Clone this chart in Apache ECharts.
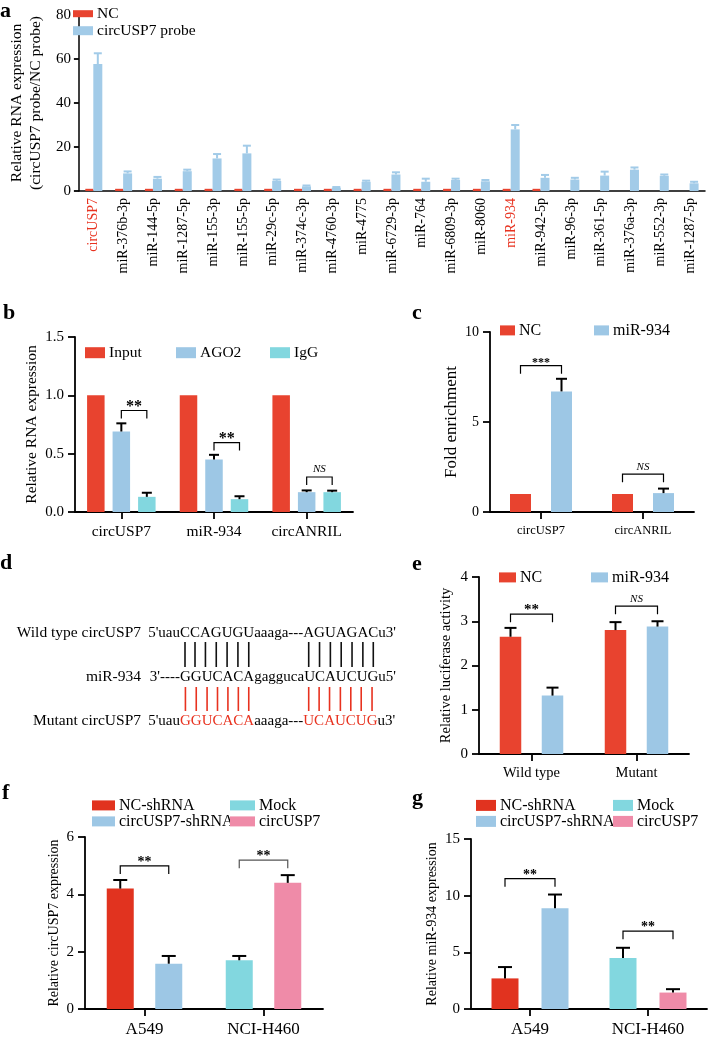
<!DOCTYPE html>
<html><head><meta charset="utf-8">
<script src="https://cdn.jsdelivr.net/npm/echarts@6/dist/echarts.min.js"></script>
<style>html,body{margin:0;padding:0;background:#fff}#c{width:712px;height:1038px}</style>
</head><body><div id="c"></div>
<script>
// ---------------- DATA ----------------
const aCategories = ['circUSP7','miR-376b-3p','miR-144-5p','miR-1287-5p','miR-155-3p','miR-155-5p','miR-29c-5p','miR-374c-3p','miR-4760-3p','miR-4775','miR-6729-3p','miR-764','miR-6809-3p','miR-8060','miR-934','miR-942-5p','miR-96-3p','miR-361-5p','miR-376a-3p','miR-552-3p','miR-1287-5p'];
const aHighlight = ['circUSP7','miR-934'];
const aNC = [1,1,1,1,1,1,1,1,1,1,1,1,1,1,1,1,'-','-','-','-','-'];
const aProbe = [57.7,8.0,5.6,9.0,14.8,17.1,4.6,2.1,1.5,4.2,7.5,4.2,5.0,4.4,28.0,6.0,5.2,7.0,9.7,6.9,3.5];
const aProbeErr = [4.9,0.9,0.8,0.7,2.0,3.5,0.6,0.4,0.3,0.5,1.0,1.4,0.6,0.6,2.0,1.3,0.8,1.8,1.0,0.6,0.7];
const aTicks = [0,20,40,60,80];

const bCategories = ['circUSP7','miR-934','circANRIL'];
const bInput = [1,1,1];
const bAGO2 = [0.69,0.45,0.17];
const bAGO2Err = [0.07,0.04,0.015];
const bIgG = [0.13,0.11,0.17];
const bIgGErr = [0.035,0.025,0.013];
const bSig = [{cat:0,y:0.87,text:'**'},{cat:1,y:0.595,text:'**'},{cat:2,y:0.30,text:'NS'}];

const cCategories = ['circUSP7','circANRIL'];
const cNC = [1,1];
const cMiR = [6.7,1.05];
const cMiRErr = [0.7,0.25];
const cSig = [{cat:0,y:8.13,text:'***'},{cat:1,y:2.1,text:'NS'}];

const eCategories = ['Wild type','Mutant'];
const eNC = [2.65,2.8];
const eNCErr = [0.2,0.18];
const eMiR = [1.32,2.88];
const eMiRErr = [0.18,0.12];
const eSig = [{cat:0,y:3.16,text:'**'},{cat:1,y:3.34,text:'NS'}];

const fgCategories = ['A549','NCI-H460'];
const fNCsh = [4.2,'-'];      const fNCshErr = [0.3,null];
const fCircSh = [1.58,'-'];   const fCircShErr = [0.27,null];
const fMock = ['-',1.7];      const fMockErr = [null,0.15];
const fCirc = ['-',4.4];      const fCircErr = [null,0.27];
const fSig = [{cat:0,y:4.99,text:'**'},{cat:1,y:5.19,text:'**',color:'#555'}];

const gNCsh = [2.7,'-'];      const gNCshErr = [1.0,null];
const gCircSh = [8.9,'-'];    const gCircShErr = [1.2,null];
const gMock = ['-',4.5];      const gMockErr = [null,0.9];
const gCirc = ['-',1.45];     const gCircErr = [null,0.3];
const gSig = [{cat:0,y:11.5,text:'**'},{cat:1,y:6.87,text:'**'}];

const dTop = ["5'uau","CCAGUGU","aaaga---","AGUAGAC","u3'"];
const dMir = ["3'----","GGUCACA","gagguca","UCAUCUG","u5'"];
const dMut = ["5'uau","GGUCACA","aaaga---","UCAUCUG","u3'"];
const dLabels = ['Wild type circUSP7','miR-934','Mutant circUSP7'];

// ---------------- STYLE ----------------
const SERIF = '"Liberation Serif", "Times New Roman", serif';
const RED = '#E8432F', RED2 = '#E1331F', BLUE = '#9DC7E5', CYAN = '#82D7DF', PINK = '#EF8BA8';

function offsets(widths, gap){
  const total = widths.reduce((s,w)=>s+w,0) + gap*(widths.length-1);
  let o = -total/2;
  return widths.map(w=>{ const c=o+w/2; o+=w+gap; return c; });
}
function grid(left, top, width, height){ return {left, top, width, height, containLabel:false}; }
function xCat(gi, data, fs, extra){
  return Object.assign({
    type:'category', gridIndex:gi, data,
    axisLine:{lineStyle:{color:'#000', width:1.8}},
    axisTick:{show:true, alignWithLabel:true, length:7, lineStyle:{color:'#000', width:1.8}},
    axisLabel:{color:'#000', fontSize:fs, fontFamily:SERIF, margin:12},
    splitLine:{show:false}
  }, extra||{});
}
function yVal(gi, min, max, interval, fs, name, nameGap, nameSize, fmt){
  return {
    type:'value', gridIndex:gi, min, max, interval,
    axisLine:{show:true, lineStyle:{color:'#000', width:1.8}},
    axisTick:{show:true, length:7, lineStyle:{color:'#000', width:1.8}},
    axisLabel:{color:'#000', fontSize:fs, fontFamily:SERIF, margin:11, formatter:fmt},
    splitLine:{show:false},
    name, nameLocation:'middle', nameGap, nameRotate:90,
    nameTextStyle:{color:'#000', fontSize:nameSize, fontFamily:SERIF, lineHeight:nameSize+3}
  };
}
function bar(name, gi, data, color, width, gap, stack){
  return {type:'bar', name, xAxisIndex:gi, yAxisIndex:gi, data, barWidth:width,
    barGap:(gap/width*100)+'%', stack, itemStyle:{color}, silent:true, z:2};
}
function errSeries(gi, means, errs, off, color, cap, lw){
  const data = [];
  means.forEach((m,i)=>{ if(m!=='-' && errs[i]!=null) data.push([i, m, errs[i]]); });
  return {type:'custom', xAxisIndex:gi, yAxisIndex:gi, data, silent:true, z:3,
    renderItem(params, api){
      const top = api.coord([api.value(0), api.value(1)+api.value(2)]);
      const base = api.coord([api.value(0), api.value(1)]);
      const x = top[0]+off;
      return {type:'group', children:[
        {type:'line', shape:{x1:x,y1:base[1],x2:x,y2:top[1]}, style:{stroke:color,lineWidth:lw}},
        {type:'line', shape:{x1:x-cap/2,y1:top[1],x2:x+cap/2,y2:top[1]}, style:{stroke:color,lineWidth:lw}}
      ]};
    }};
}
function sigSeries(gi, list, offL, offR, drop, starSize){
  return {type:'custom', xAxisIndex:gi, yAxisIndex:gi, data:list.map(b=>[b.cat,b.y]), silent:true, z:4,
    renderItem(params, api){
      const b = list[params.dataIndex];
      const c = api.coord([api.value(0), api.value(1)]);
      const x1=c[0]+offL, x2=c[0]+offR, y=c[1];
      const ns = b.text==='NS';
      return {type:'group', children:[
        {type:'polyline', shape:{points:[[x1,y+drop],[x1,y],[x2,y],[x2,y+drop]]},
          style:{stroke:b.color||'#000', lineWidth:1.2, fill:null}},
        {type:'text', style:{text:b.text, x:(x1+x2)/2, y: ns ? y-2 : y+ (starSize*0.25),
          align:'center', verticalAlign:'bottom',
          font: ns ? 'italic 11px '+SERIF : 'bold '+starSize+'px '+SERIF, fill:'#000'}}
      ]};
    }};
}
function leg(name, left, cy, w, h, fs){
  return {data:[name], left, top:cy-fs*0.6, itemWidth:w, itemHeight:h, icon:'rect', padding:0,
    itemGap:0, selectedMode:false, textStyle:{fontSize:fs, fontFamily:SERIF, color:'#000', padding:[0,0,0,-1]}};
}

// bar layouts
const aW = [8,9], aOff = offsets(aW, 0);
const bW = 17.5, bGap = 8, bOff = offsets([bW,bW,bW], bGap);
const cW = 21, cGap = 20, cOff = offsets([cW,cW], cGap);
const eW = 21.5, eGap = 20.5, eOff = offsets([eW,eW], eGap);
const fW = 27, fGap = 21.5, fOff = offsets([fW,fW], fGap);
const gW = 27, gGap = 23, gOff = offsets([gW,gW], gGap);

// ---------------- OPTION ----------------
const grids = [
  grid(64, 15, 641, 176),    // a
  grid(75, 337, 278, 175),   // b
  grid(490, 332, 204, 180),  // c
  grid(479, 577, 210, 177),  // e
  grid(85, 837, 238, 176),   // f
  grid(471, 839, 236, 174)   // g
];

const xAxes = [
  xCat(0, aCategories, 14, {
    axisTick:{show:false},
    axisLine:{lineStyle:{color:'#000', width:1.5}},
    axisLabel:{rotate:90, fontSize:14, fontFamily:SERIF, color:'#000', margin:7,
      formatter:v=> aHighlight.includes(v) ? '{r|'+v+'}' : v,
      rich:{r:{color:'#E8321F', fontSize:14, fontFamily:SERIF}}}
  }),
  xCat(1, bCategories, 15.5),
  xCat(2, cCategories, 12.5, {axisLabel:{color:'#000', fontSize:12.5, fontFamily:SERIF, margin:12}}),
  xCat(3, eCategories, 14.5),
  xCat(4, fgCategories, 17),
  xCat(5, fgCategories, 17)
];
const yAxes = [
  yVal(0, aTicks[0], aTicks[aTicks.length-1], 20, 15, 'Relative RNA expression\n(circUSP7 probe/NC probe)', 25, 15.5),
  yVal(1, 0, 1.5, 0.5, 15, 'Relative RNA expression', 32, 15.5, v=>v.toFixed(1)),
  yVal(2, 0, 10, 5, 14, 'Fold enrichment', 27, 17),
  yVal(3, 0, 4, 1, 15, 'Relative luciferase activity', 24, 14.5),
  yVal(4, 0, 6, 2, 15, 'Relative circUSP7 expression', 22, 14),
  yVal(5, 0, 15, 5, 15, 'Relative miR-934 expression', 29, 14)
];
yAxes[0].axisLine.lineStyle.width = 1.5;
yAxes[0].axisTick.length = 5;
yAxes[0].axisLabel.margin = 8;

const series = [
  // a
  bar('NC', 0, aNC, RED, aW[0], 0),
  bar('circUSP7 probe', 0, aProbe, '#A2CBE8', aW[1], 0),
  errSeries(0, aProbe, aProbeErr, aOff[1], '#A2CBE8', 8, 2),
  // b
  bar('Input', 1, bInput, RED, bW, bGap),
  bar('AGO2', 1, bAGO2, BLUE, bW, bGap),
  bar('IgG', 1, bIgG, CYAN, bW, bGap),
  errSeries(1, bAGO2, bAGO2Err, bOff[1], '#000', 10, 2),
  errSeries(1, bIgG, bIgGErr, bOff[2], '#000', 10, 2),
  sigSeries(1, bSig, bOff[1], bOff[2], 8, 16),
  // c
  bar('NC', 2, cNC, RED, cW, cGap),
  bar('miR-934', 2, cMiR, BLUE, cW, cGap),
  errSeries(2, cMiR, cMiRErr, cOff[1], '#000', 11, 2),
  sigSeries(2, cSig, cOff[0], cOff[1], 8, 12),
  // e
  bar('NC', 3, eNC, RED, eW, eGap),
  bar('miR-934', 3, eMiR, BLUE, eW, eGap),
  errSeries(3, eNC, eNCErr, eOff[0], '#000', 12, 2),
  errSeries(3, eMiR, eMiRErr, eOff[1], '#000', 12, 2),
  sigSeries(3, eSig, eOff[0], eOff[1], 8, 15),
  // f
  bar('NC-shRNA', 4, fNCsh, RED2, fW, fGap, 'fl'),
  bar('Mock', 4, fMock, CYAN, fW, fGap, 'fl'),
  bar('circUSP7-shRNA', 4, fCircSh, BLUE, fW, fGap, 'fr'),
  bar('circUSP7', 4, fCirc, PINK, fW, fGap, 'fr'),
  errSeries(4, fNCsh, fNCshErr, fOff[0], '#000', 14, 2),
  errSeries(4, fMock, fMockErr, fOff[0], '#000', 14, 2),
  errSeries(4, fCircSh, fCircShErr, fOff[1], '#000', 14, 2),
  errSeries(4, fCirc, fCircErr, fOff[1], '#000', 14, 2),
  sigSeries(4, fSig, fOff[0], fOff[1], 8, 14),
  // g
  bar('NC-shRNA', 5, gNCsh, RED2, gW, gGap, 'gl'),
  bar('Mock', 5, gMock, CYAN, gW, gGap, 'gl'),
  bar('circUSP7-shRNA', 5, gCircSh, BLUE, gW, gGap, 'gr'),
  bar('circUSP7', 5, gCirc, PINK, gW, gGap, 'gr'),
  errSeries(5, gNCsh, gNCshErr, gOff[0], '#000', 14, 2),
  errSeries(5, gMock, gMockErr, gOff[0], '#000', 14, 2),
  errSeries(5, gCircSh, gCircShErr, gOff[1], '#000', 14, 2),
  errSeries(5, gCirc, gCircErr, gOff[1], '#000', 14, 2),
  sigSeries(5, gSig, gOff[0], gOff[1], 8, 14)
];

const legends = [
  leg('NC', 73, 15, 20, 7, 15.5),
  leg('circUSP7 probe', 73, 32, 20, 9, 15.5),
  leg('Input', 85, 354, 20, 11, 15.5),
  leg('AGO2', 176, 354, 20, 11, 15.5),
  leg('IgG', 270, 354, 20, 11, 15.5),
  leg('NC', 500, 332, 15, 10, 16),
  leg('miR-934', 594, 332, 15, 10, 16),
  leg('NC', 499, 579, 17, 10, 16),
  leg('miR-934', 591, 579, 17, 10, 16),
  leg('NC-shRNA', 92, 807, 23, 10, 16),
  leg('circUSP7-shRNA', 92, 823, 23, 10, 16),
  leg('Mock', 230, 807, 25, 10, 16),
  leg('circUSP7', 230, 823, 25, 10, 16),
  leg('NC-shRNA', 476, 807, 20, 11, 16),
  leg('circUSP7-shRNA', 476, 823, 20, 11, 16),
  leg('Mock', 613, 807, 20, 11, 16),
  leg('circUSP7', 613, 823, 20, 11, 16)
];

// ---------------- PANEL d (text diagram) ----------------
const SEQ_FONT_SIZE = 15;
const mctx = document.createElement('canvas').getContext('2d');
mctx.font = SEQ_FONT_SIZE + 'px "Liberation Serif"';
const mw = s => mctx.measureText(s).width;
const firstPairX = 180;   // left edge of first paired block
const rowY = [633, 677, 721];
function seqLine(segs, y, colors){
  const start = firstPairX - mw(segs[0]);
  const text = segs.map((s,i)=>'{'+(colors[i]?'r':'k')+'|'+s+'}').join('');
  return {type:'text', x:start, y, silent:true,
    style:{text, x:0, y:0, verticalAlign:'middle', align:'left',
      rich:{k:{fontSize:SEQ_FONT_SIZE, fontFamily:SERIF, fill:'#000', color:'#000'},
            r:{fontSize:SEQ_FONT_SIZE, fontFamily:SERIF, fill:'#E8321F', color:'#E8321F'}}}};
}
function charCenters(segs, segIdx){
  const start = firstPairX - mw(segs[0]);
  let pre = start + mw(segs.slice(0,segIdx).join(''));
  const out = [];
  const s = segs[segIdx];
  for(let i=0;i<s.length;i++){ out.push(pre + mw(s.slice(0,i)) + mw(s[i])/2); }
  return out;
}
const graphics = [];
[['a',0,11],['b',3,313],['c',412,313],['d',0,563],['e',412,564],['f',2,793],['g',412,798]].forEach(p=>{
  graphics.push({type:'text', x:p[1], y:p[2], silent:true,
    style:{text:p[0], font:'bold 22px '+SERIF, fill:'#000', verticalAlign:'middle', align:'left'}});
});
dLabels.forEach((t,i)=>{
  graphics.push({type:'text', x:141, y:rowY[i], silent:true,
    style:{text:t, font:'15.5px '+SERIF, fill:'#000', align:'right', verticalAlign:'middle'}});
});
graphics.push(seqLine(dTop, rowY[0], [0,0,0,0,0]));
graphics.push(seqLine(dMir, rowY[1], [0,0,0,0,0]));
graphics.push(seqLine(dMut, rowY[2], [0,1,0,1,0]));
[1,3].forEach(si=>{
  charCenters(dTop, si).forEach(x=>{
    graphics.push({type:'line', silent:true, shape:{x1:x,y1:642,x2:x,y2:667}, style:{stroke:'#111', lineWidth:1.6}});
  });
  charCenters(dMut, si).forEach(x=>{
    graphics.push({type:'line', silent:true, shape:{x1:x,y1:687,x2:x,y2:711}, style:{stroke:'#E8321F', lineWidth:1.6}});
  });
});

const option = {
  animation:false,
  backgroundColor:'#fff',
  textStyle:{fontFamily:SERIF, color:'#000'},
  grid:grids, xAxis:xAxes, yAxis:yAxes, series, legend:legends, graphic:graphics
};
const chart = echarts.init(document.getElementById('c'), null, {renderer:'canvas'});
chart.setOption(option);
</script></body></html>
